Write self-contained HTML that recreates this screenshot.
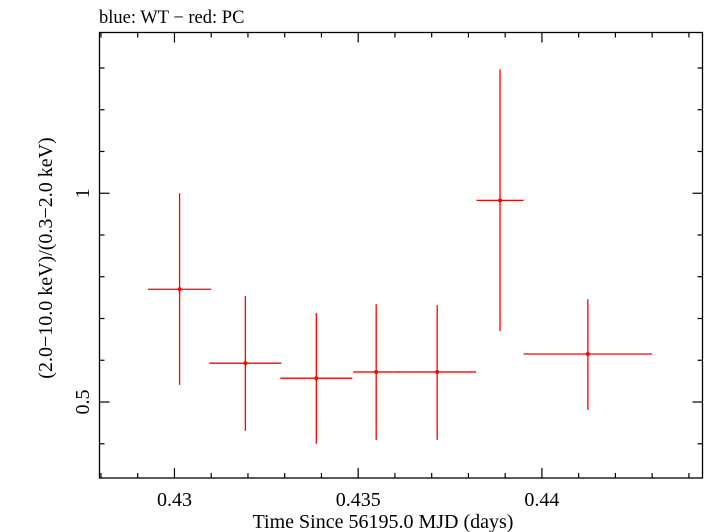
<!DOCTYPE html>
<html><head><meta charset="utf-8"><style>
body{margin:0;background:#fff;}
svg{display:block;font-family:"Liberation Serif",serif;}
</style></head><body>
<svg id="chart" width="705" height="532" viewBox="0 0 705 532" xmlns="http://www.w3.org/2000/svg">
<text x="99" y="23" font-size="18.5">blue: WT − red: PC</text>
<rect x="99.5" y="32.5" width="603" height="445.5" fill="none" stroke="#000" stroke-width="1.3"/>
<g id="axes"></g>
<g id="series"></g>
<text x="383" y="528" font-size="20" text-anchor="middle">Time Since 56195.0 MJD (days)</text>
<text transform="translate(52,258) rotate(-90)" font-size="20" text-anchor="middle">(2.0−10.0 keV)/(0.3−2.0 keV)</text>
</svg>
<script>
const times=[0.43014,0.43193,0.43386,0.43549,0.43715,0.43886,0.44125];
const timeErr=[0.00086,0.00098,0.00098,0.000625,0.00106,0.00064,0.00175];
const ratios=[0.770,0.593,0.557,0.572,0.572,0.983,0.615];
const ratioUpper=[1.0,0.754,0.713,0.734,0.732,1.297,0.746];
const ratioLower=[0.541,0.431,0.400,0.409,0.409,0.670,0.481];
const xTickLabels=["0.43","0.435","0.44"];
const yTickLabels=["0.5","1"];
const L=99.5,R=702.5,T=32.5,B=478;
const x0=0.42796,x1=0.44437,y0=0.318,y1=1.385;
const X=v=>L+(v-x0)/(x1-x0)*(R-L);
const Y=v=>B-(v-y0)/(y1-y0)*(B-T);
const NS="http://www.w3.org/2000/svg";
function mk(tag,attrs,parent){const e=document.createElementNS(NS,tag);for(const k in attrs)e.setAttribute(k,attrs[k]);parent.appendChild(e);return e;}
const ax=document.getElementById('axes');
for(let i=0;i<=16;i++){const v=0.428+i*0.001;if(v>x1)break;const px=X(v);const major=Math.abs((v*1000)%5)<1e-6||Math.abs((v*1000)%5-5)<1e-6;const len=major?10:5;
 const t1=mk('line',{x1:px,x2:px,y1:B,y2:B-len,stroke:'#000','stroke-width':1.2},ax);
 
 
 const t2=mk('line',{x1:px,x2:px,y1:T,y2:T+len,stroke:'#000','stroke-width':1.2},ax);
 
 }
xTickLabels.forEach(s=>{const t=mk('text',{x:X(parseFloat(s)),y:506,'font-size':20,'text-anchor':'middle'},ax);t.textContent=s;
 
 });
for(let i=4;i<=13;i++){const v=i/10;const py=Y(v);const major=(i===5||i===10);const len=major?10:5;
 const t1=mk('line',{x1:L,x2:L+len,y1:py,y2:py,stroke:'#000','stroke-width':1.2},ax);
 
 
 const t2=mk('line',{x1:R,x2:R-len,y1:py,y2:py,stroke:'#000','stroke-width':1.2},ax);
 
 }
yTickLabels.forEach(s=>{const py=Y(parseFloat(s));const t=mk('text',{transform:`translate(89,${py}) rotate(-90)`,'font-size':20,'text-anchor':'middle'},ax);t.textContent=s;
 
 });
const sr=document.getElementById('series');
times.forEach((t,i)=>{const g=mk('g',{},sr);
 
 
 mk('line',{x1:X(t-timeErr[i]),x2:X(t+timeErr[i]),y1:Y(ratios[i]),y2:Y(ratios[i]),stroke:'#f00','stroke-width':1.3},g);
 mk('line',{x1:X(t),x2:X(t),y1:Y(ratioUpper[i]),y2:Y(ratioLower[i]),stroke:'#f00','stroke-width':1.3},g);
 mk('circle',{cx:X(t),cy:Y(ratios[i]),r:2,fill:'#f00'},g);});
</script>
</body></html>
